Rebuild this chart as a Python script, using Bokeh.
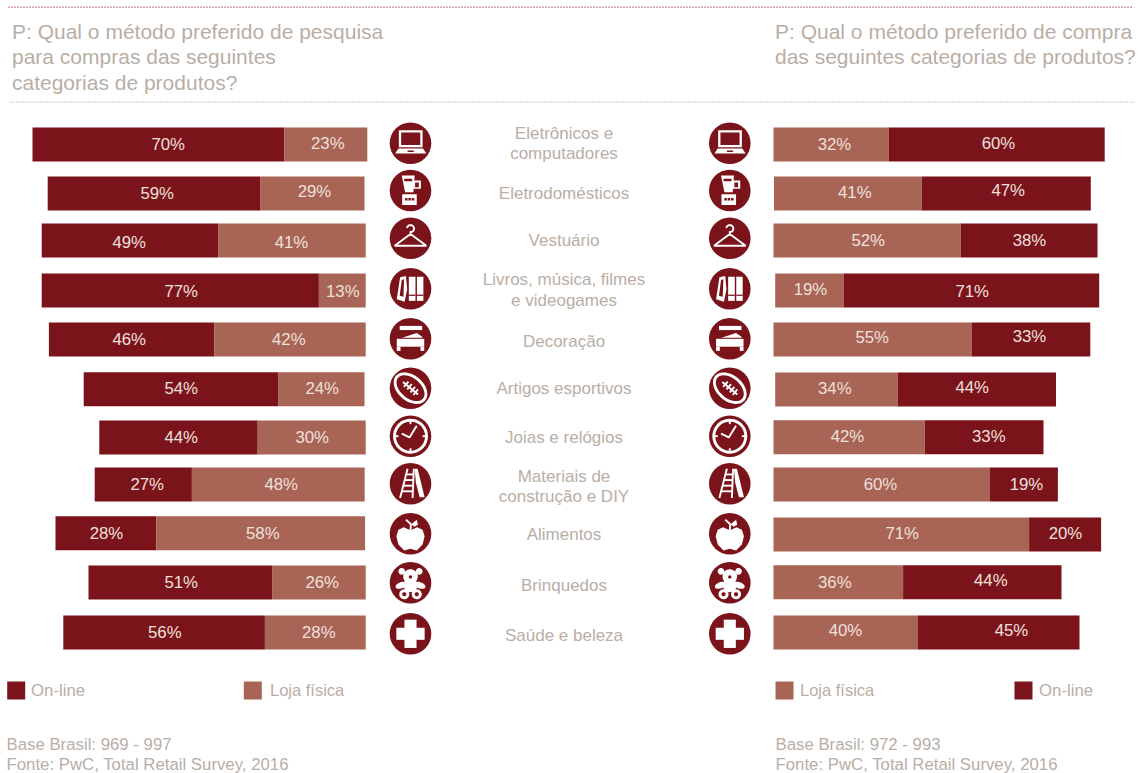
import numpy as np
from bokeh.core.properties import value
from bokeh.embed import file_html
from bokeh.models import ColumnDataSource, Range1d
from bokeh.plotting import figure
from bokeh.resources import INLINE

# Survey results, in percent, row by row
categories = [
    "Eletrônicos e\ncomputadores", "Eletrodomésticos", "Vestuário",
    "Livros, música, filmes\ne videogames", "Decoração", "Artigos esportivos",
    "Joias e relógios", "Materiais de\nconstrução e DIY", "Alimentos",
    "Brinquedos", "Saúde e beleza",
]
research_online = [70, 59, 49, 77, 46, 54, 44, 27, 28, 51, 56]
research_store = [23, 29, 41, 13, 42, 24, 30, 48, 58, 26, 28]
purchase_store = [32, 41, 52, 19, 55, 34, 42, 60, 71, 36, 40]
purchase_online = [60, 47, 38, 71, 33, 44, 33, 19, 20, 44, 45]

title_left = ["P: Qual o método preferido de pesquisa", "para compras das seguintes", "categorias de produtos?"]
title_right = ["P: Qual o método preferido de compra", "das seguintes categorias de produtos?"]
legend_online = "On-line"
legend_store = "Loja física"
notes_left = ["Base Brasil: 969 - 997", "Fonte: PwC, Total Retail Survey, 2016"]
notes_right = ["Base Brasil: 972 - 993", "Fonte: PwC, Total Retail Survey, 2016"]

# Layout, in page pixels
W, H = 1145, 773
PX_PER_PCT = 3.6
LEFT_BASE = 365.2   # usual right edge of the research bars
RIGHT_BASE = 773.0  # usual left edge of the purchase bars
BAR_H = 34
left_bar_y = [144, 193, 240, 290, 339, 388.7, 437, 484, 532.7, 582, 632]
right_bar_y = [144, 193, 240, 290, 339, 389, 436.7, 484, 534, 581.7, 632]
left_start = [1.6, -1.2, 0, 0, 0, -1.2, 0, -1.0, -0.6, 0, 0]
right_start = [0, 0.5, 0, 1.7, 0, 1.7, 0, 0, 0, 0, 0]

label_x_research_online = [167.7, 156.7, 128.7, 180.7, 128.7, 180.7, 180.7, 146.7, 106, 180.7, 164.3]
label_y_research_online = [144.3, 192.7, 242.3, 290.7, 339.3, 388.3, 436.7, 484, 532.7, 581.7, 631.7]
label_x_research_store = [327.3, 314, 291, 342.3, 288.3, 321.7, 311.7, 280.7, 262.3, 321.7, 318.3]
label_y_research_store = [142.7, 191, 242.3, 290.7, 339.3, 388.3, 436.7, 484, 532.7, 581.7, 631.7]
label_x_purchase_store = [834, 854.3, 867.7, 810, 871.7, 834.3, 847, 880, 901.7, 834.3, 845]
label_y_purchase_store = [144.3, 191.7, 240, 289, 337.3, 387.7, 435.7, 484, 532.7, 581.7, 630]
label_x_purchase_online = [998, 1007.7, 1029, 971.7, 1029, 971.7, 988.3, 1026, 1065, 990.3, 1011]
label_y_purchase_online = [142.7, 190, 240, 290.7, 336, 386.7, 435.7, 484, 532.7, 580, 630]

category_y = [133, 192.7, 240, 279.3, 340.7, 388.3, 437.3, 476, 534.3, 585, 635]
icon_y = [142.7, 190, 237.7, 288.3, 338.3, 387.7, 435.7, 483.3, 533.3, 582.3, 633.3]
ICON_X = (410, 729.3)
ICON_R = 20.8

DARK = "#7b131b"
LIGHT = "#a86455"
TEXT = "#b9aea5"
BAR_TEXT = "#efe0dd"
FONT = value("Liberation Sans")

p = figure(width=W, height=H, output_backend="svg", toolbar_location=None,
           x_range=Range1d(0, W), y_range=Range1d(H, 0),
           min_border=0, outline_line_color=None, background_fill_color="white")
p.axis.visible = False
p.grid.visible = False

# Each panel measures percentage points from its own baseline
p.extra_x_ranges["research"] = Range1d(-LEFT_BASE / PX_PER_PCT, (W - LEFT_BASE) / PX_PER_PCT)
p.extra_x_ranges["purchase"] = Range1d(-RIGHT_BASE / PX_PER_PCT, (W - RIGHT_BASE) / PX_PER_PCT)


def segment(range_name, ys, left, right, color):
    src = ColumnDataSource(dict(y=ys, left=left, right=right))
    p.hbar(y="y", left="left", right="right", height=BAR_H, source=src,
           fill_color=color, line_color=None, x_range_name=range_name)


def value_labels(xs, ys, values):
    p.text(x=xs, y=ys, text=[f"{v}%" for v in values], text_font=FONT, text_font_size="16.8px",
           text_color=BAR_TEXT, text_align="center", text_baseline="middle")


# Research bars grow leftwards from the baseline, with the store share nearest to it
edge = np.array(left_start) / PX_PER_PCT
on, st = np.array(research_online, float), np.array(research_store, float)
segment("research", left_bar_y, edge - st - on, edge - st, DARK)
segment("research", left_bar_y, edge - st, edge, LIGHT)

# Purchase bars grow rightwards, store share first
edge = np.array(right_start) / PX_PER_PCT
st, on = np.array(purchase_store, float), np.array(purchase_online, float)
segment("purchase", right_bar_y, edge, edge + st, LIGHT)
segment("purchase", right_bar_y, edge + st, edge + st + on, DARK)

value_labels(label_x_research_online, label_y_research_online, research_online)
value_labels(label_x_research_store, label_y_research_store, research_store)
value_labels(label_x_purchase_store, label_y_purchase_store, purchase_store)
value_labels(label_x_purchase_online, label_y_purchase_online, purchase_online)


def line_text(x, y, lines, size, spacing, color=TEXT, align="left"):
    ys = [y + i * spacing for i in range(len(lines))]
    p.text(x=[x] * len(lines), y=ys, text=lines, text_font=FONT, text_font_size=size,
           text_color=color, text_align=align, text_baseline="middle")


line_text(11.5, 31, title_left, "21px", 25.3)
line_text(774.5, 31, title_right, "21px", 25.3)

for name, y in zip(categories, category_y):
    line_text(563.5, y, name.split("\n"), "17px", 20.3, align="center")

# Dotted rules above and below the headings
p.line([8, 1133], [6.7, 6.7], line_color="#a8424b", line_width=1.4, line_dash="1 2")
p.line([10, 1135], [101.7, 101.7], line_color="#bfb5ad", line_width=1.4, line_dash="1 2")

# Legends
SWATCH = 18
p.rect(x=[15.7, 252.3], y=[690, 690], width=SWATCH, height=SWATCH,
       fill_color=[DARK, LIGHT], line_color=None)
p.rect(x=[784, 1023], y=[690, 690], width=SWATCH, height=SWATCH,
       fill_color=[LIGHT, DARK], line_color=None)
line_text(30.5, 689.5, [legend_online], "16.8px", 0)
line_text(269.5, 689.5, [legend_store], "16.5px", 0)
line_text(799.5, 689.5, [legend_store], "16.5px", 0)
line_text(1038.5, 689.5, [legend_online], "16.8px", 0)

line_text(6, 744, notes_left, "16.8px", 19.5)
line_text(775, 744, notes_right, "16.8px", 19.5)


# Pictograms, described in unit-circle coordinates with y pointing up
def arc(cx, cy, rx, ry=None, a0=0, a1=360, n=36, rot=0):
    ry = rx if ry is None else ry
    t = np.radians(np.linspace(a0, a1, n))
    x, y = rx * np.cos(t), ry * np.sin(t)
    c, s = np.cos(np.radians(rot)), np.sin(np.radians(rot))
    return list(zip(cx + x * c - y * s, cy + x * s + y * c))


def box(x0, y0, x1, y1):
    return [(x0, y0), (x1, y0), (x1, y1), (x0, y1)]


icons = [
    # laptop
    dict(fill=[box(-0.56, -0.2, 0.58, 0.62), [(-0.58, -0.26), (0.6, -0.26), (0.76, -0.5), (-0.74, -0.5)]],
         ink=[box(-0.45, -0.09, 0.47, 0.51), box(-0.14, -0.42, 0.16, -0.35)], line=[]),
    # blender
    dict(fill=[[(-0.42, 0.72), (0.2, 0.72), (0.14, -0.08), (-0.26, -0.08)], box(-0.4, -0.7, 0.3, -0.18),
               box(0.14, 0.08, 0.5, 0.48)],
         ink=[box(0.22, 0.16, 0.4, 0.38), box(-0.26, -0.48, -0.14, -0.36), box(-0.1, -0.48, 0.02, -0.36),
              box(0.06, -0.48, 0.18, -0.36), box(-0.3, 0.44, 0.08, 0.56)], line=[]),
    # hanger
    dict(fill=[], ink=[],
         line=[[(0, 0.2), (-0.76, -0.36), (0.76, -0.36), (0, 0.2), (0, 0.32)] + arc(0, 0.46, 0.17, a0=-70, a1=170, n=16)]),
    # books
    dict(fill=[[(-0.5, 0.56), (-0.22, 0.62), (-0.16, -0.02), (-0.28, -0.62), (-0.66, -0.5)],
               box(-0.08, -0.58, 0.24, 0.58), box(0.31, -0.58, 0.62, 0.58)],
         ink=[box(-0.08, -0.34, 0.24, -0.28), box(0.31, -0.34, 0.62, -0.28),
              [(-0.42, 0.42), (-0.31, 0.46), (-0.34, -0.38), (-0.52, -0.34)]], line=[]),
    # bed
    dict(fill=[box(-0.52, 0.42, 0.56, 0.62), [(-0.4, 0.05), (0.3, 0.28), (0.56, 0.1), (0.56, 0.05)],
               box(-0.66, -0.38, 0.66, 0.0), box(-0.66, -0.58, -0.48, -0.38), box(0.48, -0.58, 0.66, -0.38)],
         ink=[], line=[]),
    # football
    dict(fill=[arc(0, 0, 0.92, 0.62, rot=-40)], ink=[arc(0, 0, 0.78, 0.48, rot=-40)],
         line=[[(-0.36, 0.3), (0.36, -0.3)], [(-0.32, 0.06), (-0.1, 0.32)], [(-0.16, -0.06), (0.06, 0.2)],
               [(0, -0.2), (0.22, 0.06)], [(0.14, -0.32), (0.36, -0.06)]]),
    # clock
    dict(fill=[arc(0, 0, 0.84)], ink=[arc(0, 0, 0.7)],
         line=[[(0, 0.8), (0, 0.58)], [(0, -0.8), (0, -0.58)], [(-0.8, 0), (-0.58, 0)], [(0.8, 0), (0.58, 0)],
               [(-0.42, 0.12), (-0.05, -0.06), (0.3, 0.5)]]),
    # ladder
    dict(fill=[[(0.2, 0.72), (0.34, 0.72), (0.68, -0.65), (0.44, -0.65), (0.26, 0.05)]], ink=[],
         line=[[(-0.14, 0.72), (-0.5, -0.68)], [(0.16, 0.72), (0.1, -0.68)],
               [(-0.2, 0.45), (0.15, 0.45)], [(-0.27, 0.18), (0.14, 0.18)], [(-0.34, -0.09), (0.13, -0.09)],
               [(-0.41, -0.36), (0.12, -0.36)]]),
    # apple
    dict(fill=[[(-0.06, 0.2), (-0.32, 0.32), (-0.58, 0.2), (-0.68, -0.12), (-0.58, -0.52), (-0.3, -0.8),
                (0, -0.72), (0.3, -0.8), (0.58, -0.52), (0.68, -0.12), (0.58, 0.2), (0.32, 0.32), (0.06, 0.2)],
               [(0.04, 0.46), (0.3, 0.68), (0.36, 0.44), (0.18, 0.34)]],
         ink=[], line=[[(-0.22, 0.68), (0.02, 0.46), (0, 0.16)]]),
    # teddy bear
    dict(fill=[arc(0, 0.3, 0.35), arc(-0.42, 0.55, 0.16), arc(0.42, 0.55, 0.16), arc(0, -0.12, 0.33),
               arc(-0.45, -0.12, 0.28, 0.15, rot=20), arc(0.45, -0.12, 0.28, 0.15, rot=-20),
               arc(-0.3, -0.55, 0.24), arc(0.3, -0.55, 0.24)],
         ink=[arc(0, 0.28, 0.08), arc(-0.3, -0.55, 0.1), arc(0.3, -0.55, 0.1)], line=[]),
    # plus
    dict(fill=[box(-0.29, -0.68, 0.29, 0.68), box(-0.68, -0.29, 0.68, 0.29)], ink=[], line=[]),
]


def place(shape, cx, cy):
    pts = np.array(shape, dtype=float)
    return (cx + pts[:, 0] * ICON_R).tolist(), (cy - pts[:, 1] * ICON_R).tolist()


for cx in ICON_X:
    for cy, icon in zip(icon_y, icons):
        p.scatter([cx], [cy], size=2 * ICON_R, fill_color=DARK, line_color=None)
        for key, color in (("fill", "white"), ("ink", DARK)):
            if icon[key]:
                placed = [place(s, cx, cy) for s in icon[key]]
                p.patches([a for a, _ in placed], [b for _, b in placed], fill_color=color, line_color=None)
        if icon["line"]:
            placed = [place(s, cx, cy) for s in icon["line"]]
            p.multi_line([a for a, _ in placed], [b for _, b in placed], line_color="white", line_width=1.9)

open("out.html", "w").write(file_html(p, INLINE))
